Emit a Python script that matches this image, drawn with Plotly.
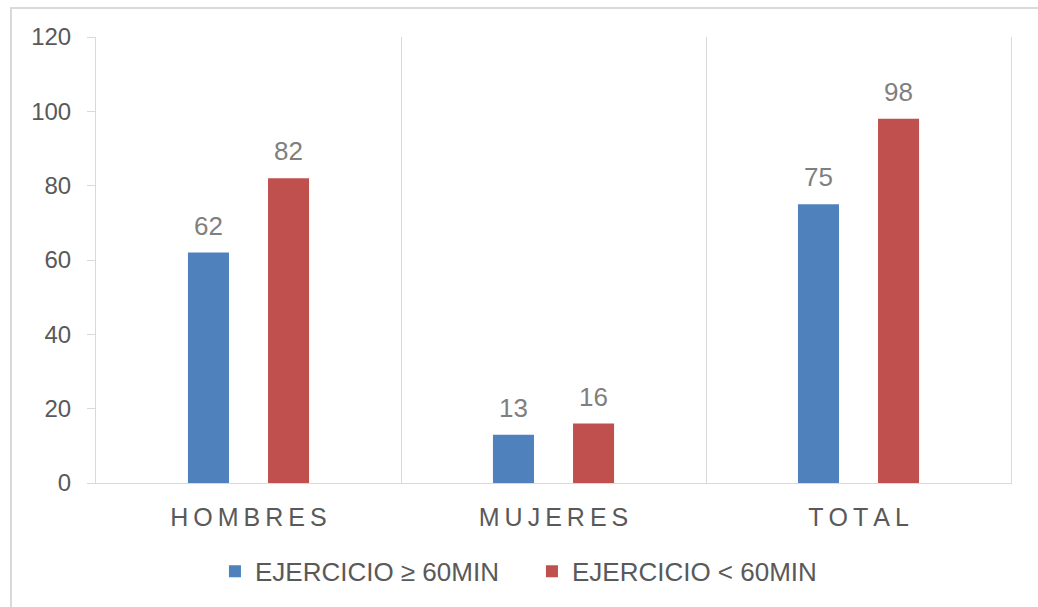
import plotly.graph_objects as go

categories = ["HOMBRES", "MUJERES", "TOTAL"]
cat_labels = ["\u2009".join(c) for c in categories]
series_names = ["EJERCICIO ≥ 60MIN", "EJERCICIO < 60MIN"]
ge60 = [62, 13, 75]
lt60 = [82, 16, 98]
y_ticks = [0, 20, 40, 60, 80, 100, 120]

FONT = "Liberation Sans, Arial, sans-serif"
GRID = "#d9d9d9"
LABEL_COLOR = "#7f7f7f"

fig = go.Figure()
fig.add_trace(go.Bar(x=categories, y=ge60, name=series_names[0],
                     marker=dict(color="#4F81BD", line=dict(width=0))))
fig.add_trace(go.Bar(x=categories, y=lt60, name=series_names[1],
                     marker=dict(color="#C0504D", line=dict(width=0))))

# data labels above each bar (offset to each bar of the group)
for vals, shift in ((ge60, -40), (lt60, 40)):
    for cat, v in zip(categories, vals):
        fig.add_annotation(x=cat, y=v, text=str(v), showarrow=False,
                           xshift=shift, yshift=10, yanchor="bottom",
                           font=dict(family=FONT, size=26, color=LABEL_COLOR))

fig.update_layout(
    width=1038, height=607,
    margin=dict(l=96, r=27, t=37, b=124, pad=0),
    paper_bgcolor="white", plot_bgcolor="white",
    barmode="group", bargap=0.475, bargroupgap=0.4875,
    font=dict(family=FONT, size=24, color="#595959"),
    showlegend=True,
    legend=dict(orientation="h", x=0.130, xanchor="left", y=-0.198, yanchor="middle",
                font=dict(family=FONT, size=26, color="#595959"),
                itemwidth=30, entrywidth=272, entrywidthmode="pixels",
                traceorder="normal", bgcolor="rgba(0,0,0,0)"),
    xaxis=dict(type="category", tickmode="array", tickvals=categories, ticktext=cat_labels,
               tickson="boundaries", showgrid=True, gridcolor=GRID, gridwidth=1,
               showline=True, linecolor=GRID, linewidth=1, ticks="",
               ticklabelstandoff=12, range=[-0.5, 2.5],
               tickfont=dict(family=FONT, size=25, color="#595959")),
    yaxis=dict(range=[0, 120], tickmode="array", tickvals=y_ticks,
               showgrid=False, zeroline=False, showline=True, mirror=True,
               linecolor=GRID, linewidth=1, ticks="outside", ticklen=8,
               tickcolor=GRID, ticklabelstandoff=11,
               tickfont=dict(family=FONT, size=24, color="#595959")),
    shapes=[dict(type="rect", xref="paper", yref="paper",
                 x0=(11 - 96) / 915, x1=(1045 - 96) / 915,
                 y0=(483 - 615) / 446, y1=(483 - 8) / 446,
                 line=dict(color=GRID, width=2), fillcolor="rgba(0,0,0,0)", layer="below")],
)

fig.write_html("out.html")
